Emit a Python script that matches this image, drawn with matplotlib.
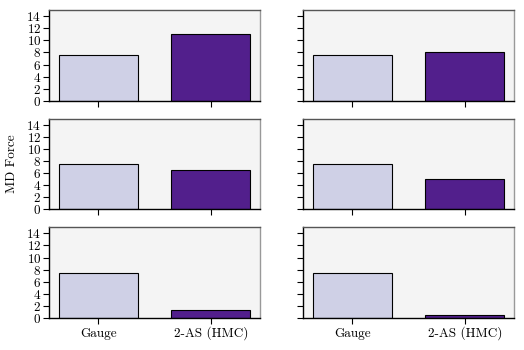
import matplotlib
matplotlib.use('Agg')
from matplotlib import pyplot as plt

plt.rcParams['font.family'] = 'serif'
plt.rcParams['font.serif'] = ['cmr10']
plt.rcParams['axes.formatter.use_mathtext'] = True
plt.rcParams['font.size'] = 9.5

categories = ['Gauge', '2-AS (HMC)']
gauge = [7.5, 7.5, 7.5, 7.5, 7.5, 7.5]
hmc = [11.1, 8.0, 6.5, 5.0, 1.4, 0.5]
bar_colors = ['#cfd0e6', '#521f8c']

fig, axes = plt.subplots(3, 2, figsize=(5.24, 3.5), dpi=100)
fig.subplots_adjust(left=0.0935, right=0.981, top=0.971, bottom=0.0914,
                    wspace=0.204, hspace=0.198)

for i, ax in enumerate(axes.flat):
    ax.set_facecolor('#f4f4f4')
    ax.bar([0, 1], [gauge[i], hmc[i]], width=0.7, color=bar_colors,
           edgecolor='black', linewidth=0.8, zorder=2)
    ax.set_ylim(0, 15)
    ax.set_yticks(range(0, 15, 2))
    ax.set_xticks([0, 1])
    row, col = divmod(i, 2)
    if row == 2:
        ax.set_xticklabels(categories, va='baseline')
        ax.tick_params(axis='x', pad=9.5)
    else:
        ax.set_xticklabels([])
    if col == 1:
        ax.set_yticklabels([])
    ax.spines['top'].set_color('#555555')
    ax.spines['right'].set_color('#999999')
    ax.spines['left'].set_color('black')
    ax.spines['bottom'].set_color('black')
    for s in ax.spines.values():
        s.set_linewidth(1.0)
    ax.tick_params(length=4, width=0.8)
    ax.tick_params(axis='y', pad=1.5)

axes[1, 0].set_ylabel('MD Force', labelpad=6)

plt.savefig('out.png', dpi=100)
